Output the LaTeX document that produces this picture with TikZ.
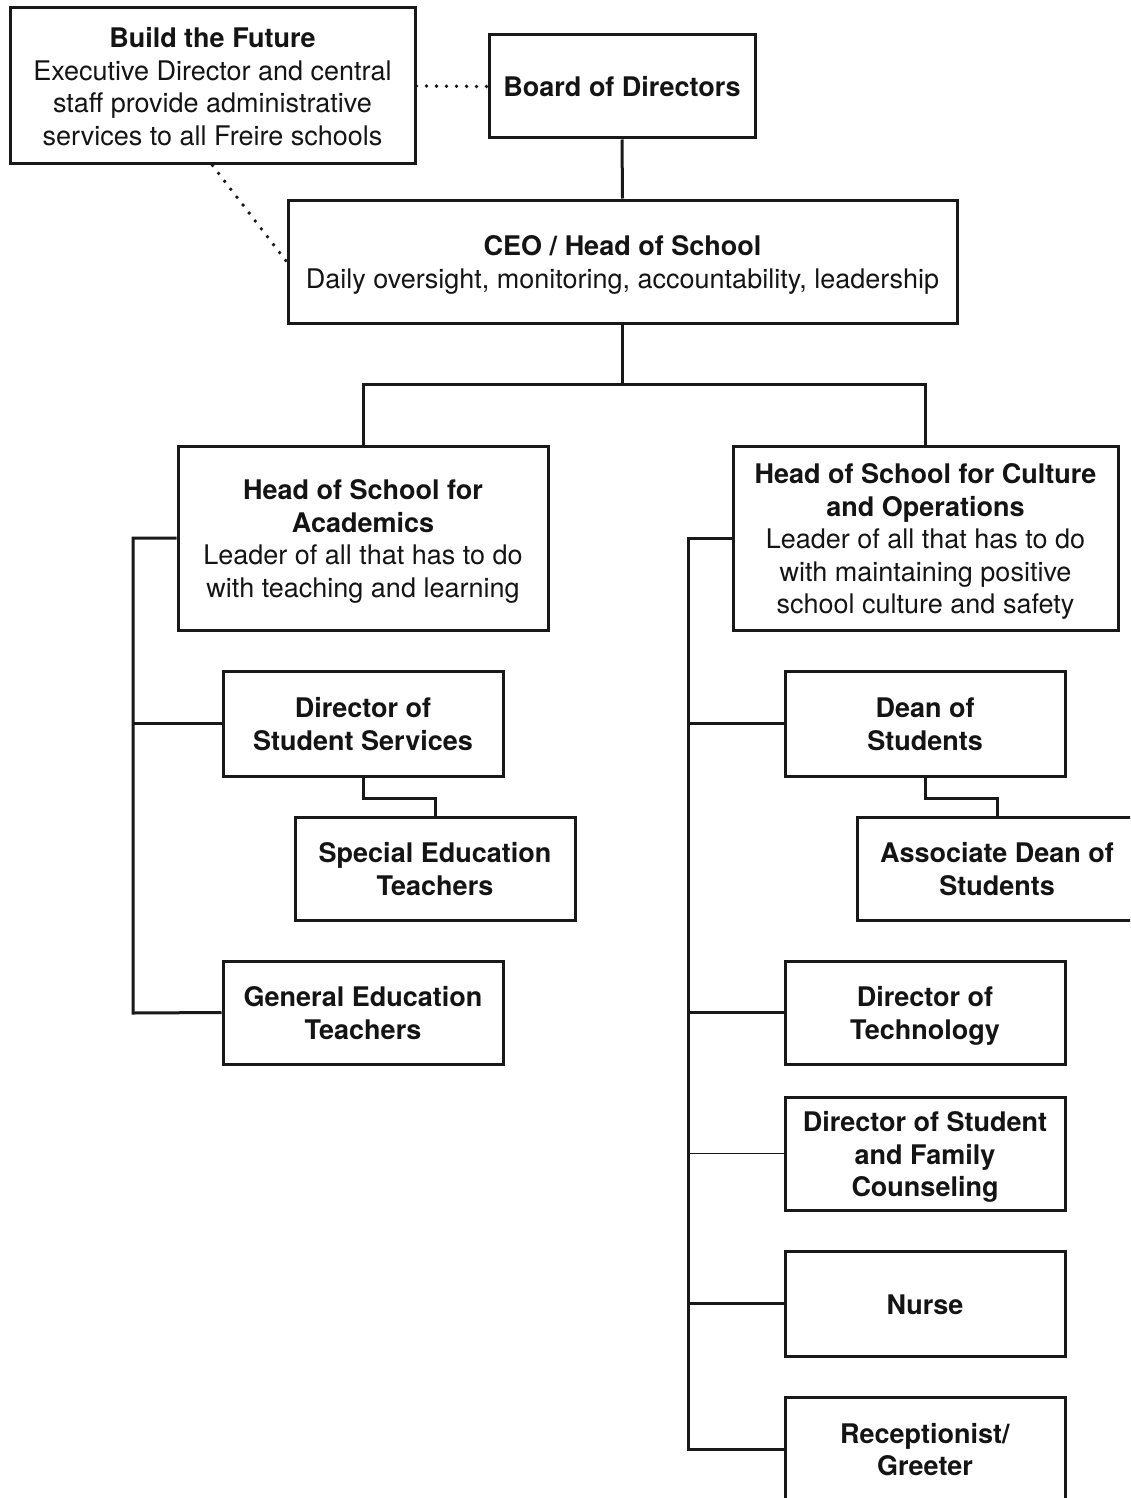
\documentclass[tikz,border=0pt]{standalone}
\usepackage{fontspec}
\setmainfont{TeX Gyre Heros}
\newcommand\boxlines[1]{\raisebox{-4pt}[\height][\depth]{\begin{tabular}{@{}c@{}}#1\end{tabular}}}
\begin{document}
\begin{tikzpicture}[x=1pt,y=-1pt,
  every node/.style={font=\fontsize{27}{32.5}\selectfont, text=black!92},
  box/.style={draw=black!90, line width=3pt, align=center, inner sep=0pt, rectangle},
  link/.style={draw=black!90, line width=3pt},
  thinlink/.style={draw=black!90, line width=1.4pt},
  dotlink/.style={draw=black!90, line width=3.8pt, line cap=round, dash pattern=on 0pt off 10pt}]
\useasboundingbox (0,0) rectangle (1130,1498);
\clip (0,0) rectangle (1130,1498);
\fill[white] (0,0) rectangle (1130,1498);

% nodes
\node[box, minimum width=405, minimum height=156] (btf) at (212.5,86)
  {\boxlines{\textbf{Build the Future}\\Executive Director and central\\staff provide administrative\\services to all Freire schools}};
\node[box, minimum width=266, minimum height=103] (board) at (622,86.5) {\boxlines{\textbf{Board of Directors}}};
\node[box, minimum width=669, minimum height=123] (ceo) at (622.5,261.5)
  {\boxlines{\textbf{CEO / Head of School}\\Daily oversight, monitoring, accountability, leadership}};
\node[box, minimum width=370, minimum height=184] (hacad) at (363,538)
  {\boxlines{\textbf{Head of School for}\\\textbf{Academics}\\Leader of all that has to do\\with teaching and learning}};
\node[box, minimum width=385, minimum height=184] (hcult) at (925.5,538)
  {\boxlines{\textbf{Head of School for Culture}\\\textbf{and Operations}\\Leader of all that has to do\\with maintaining positive\\school culture and safety}};
\node[box, minimum width=280, minimum height=105] (dss) at (363,723.5) {\boxlines{\textbf{Director of}\\\textbf{Student Services}}};
\node[box, minimum width=280, minimum height=103] (sped) at (435,868.5) {\boxlines{\textbf{Special Education}\\\textbf{Teachers}}};
\node[box, minimum width=280, minimum height=103] (gen) at (363,1012.5) {\boxlines{\textbf{General Education}\\\textbf{Teachers}}};
\node[box, minimum width=280, minimum height=105] (dean) at (925,723.5) {\boxlines{\textbf{Dean of}\\\textbf{Students}}};
\node[box, minimum width=280, minimum height=103] (adean) at (997,868.5) {\boxlines{\textbf{Associate Dean of}\\\textbf{Students}}};
\node[box, minimum width=280, minimum height=103] (tech) at (925,1012.5) {\boxlines{\textbf{Director of}\\\textbf{Technology}}};
\node[box, minimum width=280, minimum height=113] (couns) at (925,1153.5) {\boxlines{\textbf{Director of Student}\\\textbf{and Family}\\\textbf{Counseling}}};
\node[box, minimum width=280, minimum height=105] (nurse) at (925,1303.5) {\boxlines{\textbf{Nurse}}};
\node[box, minimum width=280, minimum height=104] (recep) at (925,1449) {\boxlines{\textbf{Receptionist/}\\\textbf{Greeter}}};

% bus coordinates
\coordinate (lbtop) at (133,538);
\coordinate (lbbot) at (133,1013);
\coordinate (rbtop) at (688,538);
\coordinate (rbbot) at (688,1449);
\coordinate (split) at (622.5,384);

% connectors
\draw[dotlink] (btf.east) -- (board.west);
\draw[dotlink] (btf.south) -- (ceo.west);
\draw[link] (board.south) -- (ceo.north);
\draw[link] (ceo.south) -- (split);
\draw[link] (split) -| (hacad.north);
\draw[link] (split) -| (hcult.north);

\draw[link] (hacad.west) -- (lbtop) -- (lbbot) -- (gen.west);
\draw[link] (dss.west) -- (dss.west -| lbtop);
\draw[link] (dss.south) -- ++(0,21) -| (sped.north);

\draw[link] (hcult.west) -- (rbtop) -- (rbbot) -- (recep.west);
\draw[link] (dean.west) -- (dean.west -| rbtop);
\draw[link] (dean.south) -- ++(0,21) -| (adean.north);
\draw[link] (tech.west) -- (tech.west -| rbtop);
\draw[thinlink] (couns.west) -- (couns.west -| rbtop);
\draw[link] (nurse.west) -- (nurse.west -| rbtop);
\end{tikzpicture}
\end{document}
